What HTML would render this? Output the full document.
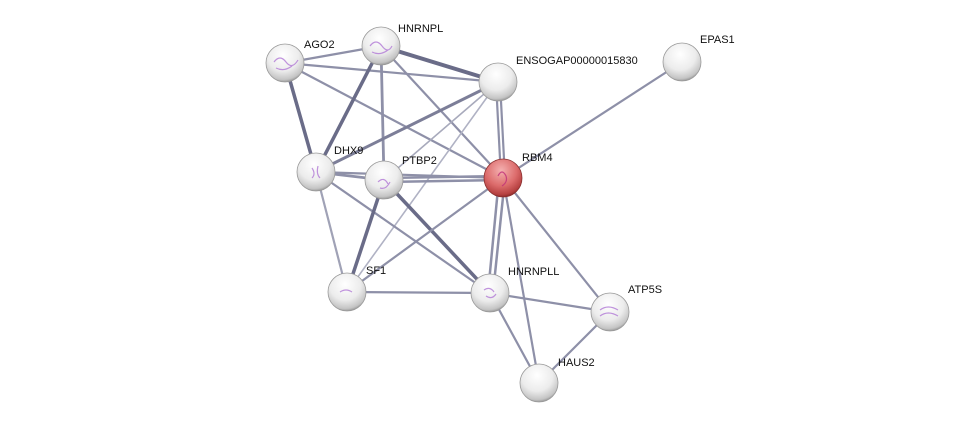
<!DOCTYPE html>
<html><head><meta charset="utf-8"><style>
html,body{margin:0;padding:0;background:#fff;width:975px;height:429px;overflow:hidden}
text{font-family:"Liberation Sans",sans-serif;font-size:11px;fill:#111}
</style></head><body>
<svg width="975" height="429" viewBox="0 0 975 429" xmlns="http://www.w3.org/2000/svg">
<defs>
<radialGradient id="g" cx="0.45" cy="0.3" r="0.75">
<stop offset="0" stop-color="#ffffff"/><stop offset="0.55" stop-color="#ececec"/><stop offset="0.85" stop-color="#c4c4c4"/><stop offset="1" stop-color="#7a7a7a"/>
</radialGradient>
<radialGradient id="r" cx="0.45" cy="0.3" r="0.75">
<stop offset="0" stop-color="#f4b0b0"/><stop offset="0.55" stop-color="#dc6b6b"/><stop offset="0.85" stop-color="#b54040"/><stop offset="1" stop-color="#6a1a1a"/>
</radialGradient>
</defs>
<g stroke="#8e90a8" stroke-width="2.2" fill="none" stroke-linecap="round">
<line x1="285" y1="63" x2="381" y2="46"/>
<line x1="285" y1="63" x2="498" y2="82"/>
<line x1="285" y1="63" x2="316" y2="172" stroke="#6a6c88" stroke-width="3.5"/>
<line x1="285" y1="63" x2="503" y2="178"/>
<line x1="381" y1="46" x2="498" y2="82" stroke="#6a6c88" stroke-width="4"/>
<line x1="381" y1="46" x2="316" y2="172" stroke="#6a6c88" stroke-width="3.5"/>
<line x1="381" y1="46" x2="384" y2="180" stroke-width="2.8"/>
<line x1="381" y1="46" x2="503" y2="178"/>
<line x1="498" y1="82" x2="316" y2="172" stroke="#7c7e98" stroke-width="3"/>
<line x1="498" y1="82" x2="384" y2="180" stroke="#a8aabc" stroke-width="1.6"/>
<line x1="498" y1="82" x2="347" y2="292" stroke="#b0b2c4" stroke-width="1.6"/>
<line x1="496" y1="82" x2="501" y2="178"/>
<line x1="500" y1="82" x2="505" y2="178"/>
<line x1="682" y1="62" x2="503" y2="178"/>
<line x1="316" y1="172" x2="384" y2="180" stroke-width="2.8"/>
<line x1="316" y1="172" x2="503" y2="178"/>
<line x1="316" y1="172" x2="347" y2="292" stroke="#a0a2b6"/>
<line x1="316" y1="172" x2="490" y2="293"/>
<line x1="384" y1="178" x2="503" y2="176" stroke-width="2.5"/>
<line x1="384" y1="182" x2="503" y2="180" stroke-width="2.5"/>
<line x1="384" y1="180" x2="347" y2="292" stroke="#6a6c88" stroke-width="3.5"/>
<line x1="384" y1="180" x2="490" y2="293" stroke="#6a6c88" stroke-width="3.5"/>
<line x1="503" y1="178" x2="347" y2="292"/>
<line x1="499" y1="178" x2="488" y2="293" stroke-width="2.5"/>
<line x1="505" y1="178" x2="493" y2="293" stroke-width="2.5"/>
<line x1="503" y1="178" x2="610" y2="312"/>
<line x1="503" y1="178" x2="539" y2="383"/>
<line x1="347" y1="292" x2="490" y2="293"/>
<line x1="490" y1="293" x2="610" y2="312"/>
<line x1="490" y1="293" x2="539" y2="383"/>
<line x1="610" y1="312" x2="539" y2="383"/>
</g>
<g stroke="#9a9a9a" stroke-width="0.8">
<circle cx="285" cy="63" r="19" fill="url(#g)"/>
<circle cx="381" cy="46" r="19" fill="url(#g)"/>
<circle cx="498" cy="82" r="19" fill="url(#g)"/>
<circle cx="682" cy="62" r="19" fill="url(#g)"/>
<circle cx="316" cy="172" r="19" fill="url(#g)"/>
<circle cx="384" cy="180" r="19" fill="url(#g)"/>
<circle cx="503" cy="178" r="19" fill="url(#r)" stroke="#8a3030"/>
<circle cx="347" cy="292" r="19" fill="url(#g)"/>
<circle cx="490" cy="293" r="19" fill="url(#g)"/>
<circle cx="610" cy="312" r="19" fill="url(#g)"/>
<circle cx="539" cy="383" r="19" fill="url(#g)"/>
</g>
<g fill="none" stroke="#b27ad6" stroke-width="1.2" opacity="0.8">
<path d="M274 62 q6 -8 12 0 t12 -2 M276 68 q8 4 16 -2"/>
<path d="M370 46 q6 -8 12 0 t10 0 M372 52 q8 4 16 -2"/>
<path d="M312 168 q4 6 0 10 M318 166 q-2 8 2 12"/>
<path d="M378 182 q6 -6 10 2 M380 188 q6 2 10 -6"/>
<path d="M340 292 q6 -4 12 0"/>
<path d="M484 290 q6 -4 10 2 M486 296 q6 4 10 -2"/>
<path d="M600 310 q8 -6 18 0 M600 316 q8 -6 18 0"/>
<path d="M498 176 q4 -8 8 0 q2 6 -4 10" stroke="#c0307a"/>
</g>
<text x="304" y="48">AGO2</text>
<text x="398" y="32">HNRNPL</text>
<text x="516" y="64">ENSOGAP00000015830</text>
<text x="700" y="43">EPAS1</text>
<text x="334" y="154">DHX9</text>
<text x="402" y="164">PTBP2</text>
<text x="522" y="161">RBM4</text>
<text x="366" y="274">SF1</text>
<text x="508" y="275">HNRNPLL</text>
<text x="628" y="293">ATP5S</text>
<text x="558" y="366">HAUS2</text>
</svg>
</body></html>
